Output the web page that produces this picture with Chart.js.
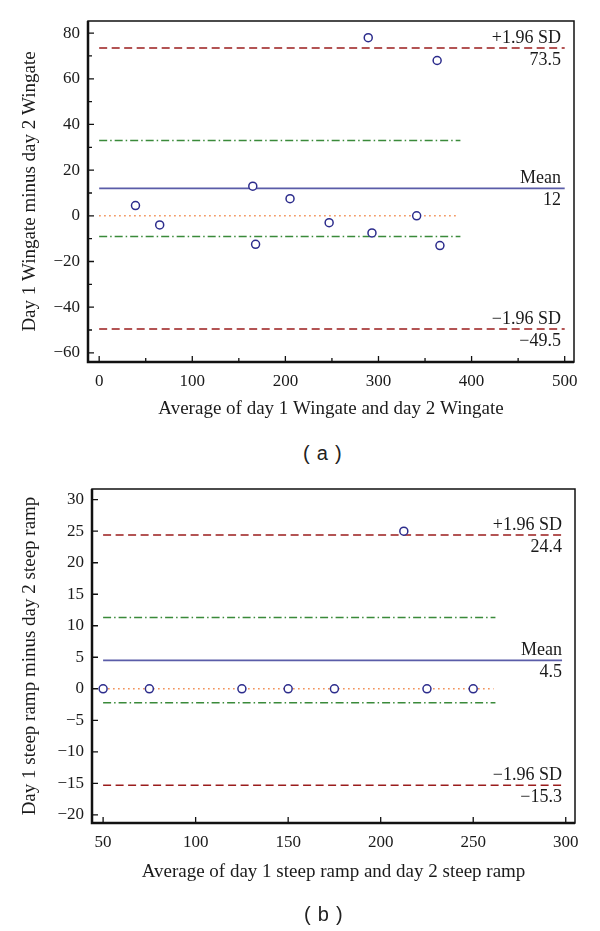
<!DOCTYPE html>
<html lang="en">
<head>
<meta charset="UTF-8">
<title>Bland-Altman plots</title>
<script src="https://cdn.jsdelivr.net/npm/chart.js"></script>
<style>
  body { margin: 0; background: #fff; }
  .wrap { position: relative; width: 600px; height: 931px; }
  canvas { position: absolute; left: 0; }
  .cap { position: absolute; font-family: "Liberation Sans", Arial, sans-serif; font-size: 20px; letter-spacing: 0.8px; color: #222; white-space: pre; }
</style>
</head>
<body>
<div class="wrap">
  <canvas id="chartA" width="600" height="440" style="top:0"></canvas>
  <div class="cap" style="left:303px; top:442px">( a )</div>
  <canvas id="chartB" width="600" height="440" style="top:470px"></canvas>
  <div class="cap" style="left:304px; top:903px">( b )</div>
</div>
<script>
// (a) Wingate
const avgA = [39, 65, 165, 168, 205, 247, 289, 293, 341, 363, 366];
const diffA = [4.5, -4, 13, -12.5, 7.5, -3, 78, -7.5, 0, 68, -13];
const limitsA = { upper: 73.5, mean: 12, lower: -49.5, ciHigh: 33, ciLow: -9 };
const limitLabelsA = ['73.5', '12', '\u221249.5'];
const spanA = { sd: [0, 500], ci: [0, 388], zero: [0, 383] };
const xTicksA = [0, 100, 200, 300, 400, 500];
const xMinorA = [50, 150, 250, 350, 450];
const yTicksA = [-60, -40, -20, 0, 20, 40, 60, 80];
const yMinorA = [-50, -30, -10, 10, 30, 50, 70];

// (b) steep ramp
const avgB = [50, 75, 125, 150, 175, 212.5, 225, 250];
const diffB = [0, 0, 0, 0, 0, 25, 0, 0];
const limitsB = { upper: 24.4, mean: 4.5, lower: -15.3, ciHigh: 11.3, ciLow: -2.2 };
const limitLabelsB = ['24.4', '4.5', '\u221215.3'];
const spanB = { sd: [50, 298], ci: [50, 262], zero: [50, 261] };
const xTicksB = [50, 100, 150, 200, 250, 300];
const xMinorB = [];
const yTicksB = [-20, -15, -10, -5, 0, 5, 10, 15, 20, 25, 30];
const yMinorB = [];

const SERIF = '"Liberation Serif", "Times New Roman", serif';

function fmt(v) {
  return v < 0 ? '\u2212' + Math.abs(v) : String(v);
}

function hline(x, y, color, dash, width) {
  return {
    type: 'line',
    data: [{ x: x[0], y: y }, { x: x[1], y: y }],
    borderColor: color,
    borderDash: dash,
    borderWidth: width || 1.5,
    pointRadius: 0,
    fill: false
  };
}

// frame, inward tick marks and the labels of the limit lines
const framePlugin = {
  id: 'frame',
  afterDatasetsDraw(chart, args, o) {
    const ctx = chart.ctx;
    const a = chart.chartArea;
    const xs = chart.scales.x, ys = chart.scales.y;
    ctx.save();
    ctx.strokeStyle = '#111';
    ctx.lineWidth = 1.5;
    ctx.strokeRect(a.left, a.top, a.right - a.left, a.bottom - a.top);
    ctx.lineWidth = 2.5;
    ctx.beginPath();
    ctx.moveTo(a.left, a.top);
    ctx.lineTo(a.left, a.bottom);
    ctx.lineTo(a.right, a.bottom);
    ctx.stroke();
    ctx.lineWidth = 1.3;
    ctx.beginPath();
    o.xMajor.forEach(v => { const p = xs.getPixelForValue(v); ctx.moveTo(p, a.bottom); ctx.lineTo(p, a.bottom - 6); });
    o.xMinor.forEach(v => { const p = xs.getPixelForValue(v); ctx.moveTo(p, a.bottom); ctx.lineTo(p, a.bottom - 4); });
    o.yMajor.forEach(v => { const p = ys.getPixelForValue(v); ctx.moveTo(a.left, p); ctx.lineTo(a.left + 6, p); });
    o.yMinor.forEach(v => { const p = ys.getPixelForValue(v); ctx.moveTo(a.left, p); ctx.lineTo(a.left + 4, p); });
    ctx.stroke();

    ctx.fillStyle = '#1a1a1a';
    ctx.font = '18px ' + SERIF;
    ctx.textAlign = 'right';
    const tx = a.right - 13;
    const names = ['+1.96 SD', 'Mean', '\u22121.96 SD'];
    [o.limits.upper, o.limits.mean, o.limits.lower].forEach((v, i) => {
      const p = ys.getPixelForValue(v);
      ctx.textBaseline = 'bottom';
      ctx.fillText(names[i], tx, p - 1);
      ctx.textBaseline = 'top';
      ctx.fillText(o.valueLabels[i], tx, p + 3);
    });
    ctx.restore();
  }
};

function makeChart(id, cfg) {
  const L = cfg.limits;
  return new Chart(document.getElementById(id), {
    type: 'scatter',
    data: {
      datasets: [
        {
          data: cfg.avg.map((v, i) => ({ x: v, y: cfg.diff[i] })),
          pointStyle: 'circle',
          pointRadius: 4,
          pointBorderWidth: 1.5,
          pointBorderColor: '#2c2c8c',
          pointBackgroundColor: '#fff'
        },
        hline(cfg.span.zero, 0, '#f0884a', [1.5, 3.5]),
        hline(cfg.span.ci, L.ciHigh, '#3a8a3a', [8, 3, 1.5, 3]),
        hline(cfg.span.ci, L.ciLow, '#3a8a3a', [8, 3, 1.5, 3]),
        hline(cfg.span.sd, L.mean, '#5a5ca8', [], 1.6),
        hline(cfg.span.sd, L.upper, '#9a1c1c', [8, 4.5]),
        hline(cfg.span.sd, L.lower, '#9a1c1c', [8, 4.5])
      ]
    },
    options: {
      responsive: false,
      animation: false,
      events: [],
      layout: { padding: { top: cfg.pad.top, right: cfg.pad.right, left: 0, bottom: 0 } },
      plugins: {
        legend: { display: false },
        tooltip: { enabled: false },
        frame: {
          xMajor: cfg.xTicks, xMinor: cfg.xMinor, yMajor: cfg.yTicks, yMinor: cfg.yMinor,
          limits: L, valueLabels: cfg.valueLabels
        }
      },
      scales: {
        x: {
          type: 'linear',
          min: cfg.xRange[0], max: cfg.xRange[1],
          afterBuildTicks: s => { s.ticks = cfg.xTicks.map(v => ({ value: v })); },
          afterFit: s => { s.height = cfg.xAxisH; },
          grid: { display: false, drawTicks: false },
          border: { display: false },
          ticks: { padding: 9, color: '#1a1a1a', font: { family: SERIF, size: 17 }, maxRotation: 0, callback: fmt },
          title: { display: true, text: cfg.xTitle, color: '#1a1a1a', font: { family: SERIF, size: 19 }, padding: { top: 0, bottom: cfg.xTitlePad } }
        },
        y: {
          type: 'linear',
          min: cfg.yRange[0], max: cfg.yRange[1],
          afterBuildTicks: s => { s.ticks = cfg.yTicks.map(v => ({ value: v })); },
          afterFit: s => { s.width = cfg.yAxisW; },
          grid: { display: false, drawTicks: false },
          border: { display: false },
          ticks: { padding: 8, color: '#1a1a1a', font: { family: SERIF, size: 17 }, callback: fmt },
          title: { display: true, text: cfg.yTitle, color: '#1a1a1a', font: { family: SERIF, size: 19 }, padding: { top: cfg.yTitlePad, bottom: 0 } }
        }
      }
    },
    plugins: [framePlugin]
  });
}

makeChart('chartA', {
  avg: avgA, diff: diffA, limits: limitsA, valueLabels: limitLabelsA, span: spanA,
  xTicks: xTicksA, xMinor: xMinorA, yTicks: yTicksA, yMinor: yMinorA,
  xRange: [-12, 510], yRange: [-64, 85.3],
  pad: { top: 21, right: 26 }, xAxisH: 78, yAxisW: 88, xTitlePad: 20, yTitlePad: 19,
  xTitle: 'Average of day 1 Wingate and day 2 Wingate',
  yTitle: 'Day 1 Wingate minus day 2 Wingate'
});

makeChart('chartB', {
  avg: avgB, diff: diffB, limits: limitsB, valueLabels: limitLabelsB, span: spanB,
  xTicks: xTicksB, xMinor: xMinorB, yTicks: yTicksB, yMinor: yMinorB,
  xRange: [44, 305], yRange: [-21.3, 31.7],
  pad: { top: 19, right: 25 }, xAxisH: 87, yAxisW: 92, xTitlePad: 27, yTitlePad: 19,
  xTitle: 'Average of day 1 steep ramp and day 2 steep ramp',
  yTitle: 'Day 1 steep ramp minus day 2 steep ramp'
});
</script>
</body>
</html>
